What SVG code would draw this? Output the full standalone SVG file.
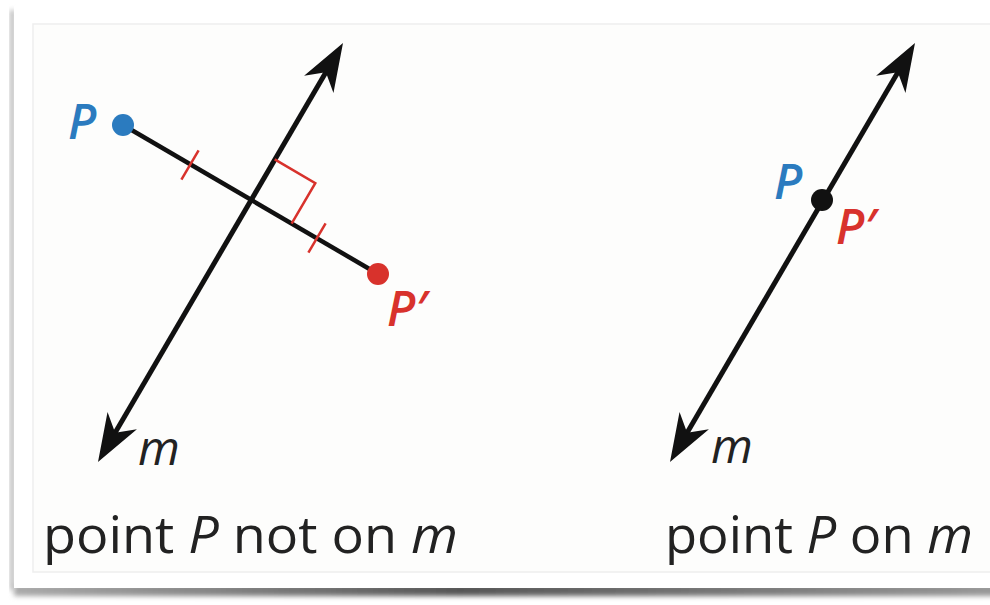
<svg xmlns="http://www.w3.org/2000/svg" width="990" height="605" viewBox="0 0 990 605">
<defs>
<filter id="blur" x="-10%" y="-50%" width="120%" height="200%"><feGaussianBlur stdDeviation="2.5"/></filter>
<linearGradient id="sh" x1="0" y1="0" x2="1" y2="0">
<stop offset="0" stop-color="#aaa"/><stop offset="0.45" stop-color="#555"/><stop offset="1" stop-color="#999"/>
</linearGradient>
<path id="arr" d="M0,0 L-48,-17 L-34,0 L-48,17 Z" fill="#111"/>
</defs>
<style>
.ln{stroke:#111;stroke-width:5;fill:none}
.seg{stroke:#111;stroke-width:4.5;fill:none}
.red{stroke:#d8322c;stroke-width:2.5;fill:none}
.lbl{font-family:"Open Sans","Noto Sans",sans-serif;font-style:italic;font-weight:600;font-size:48px}
.m{font-family:"Open Sans","Noto Sans",sans-serif;font-style:italic;font-size:48px;fill:#222}
.cap{font-family:"Open Sans","Noto Sans",sans-serif;font-size:52px;fill:#222}
</style>
<rect width="990" height="605" fill="#fff"/>
<g id="card">
<rect x="14" y="584" width="990" height="12" fill="url(#sh)" filter="url(#blur)"/>
<rect x="10" y="10" width="5" height="580" fill="#bbb" filter="url(#blur)"/>
<rect x="14" y="6" width="990" height="582" fill="#fff"/>
<rect x="33" y="24" width="970" height="548" fill="#fdfdfc" stroke="#eeeeee" stroke-width="1.5"/>
</g>
<g id="connectors">
<line class="ln" x1="327.8" y1="68.9" x2="113.2" y2="436.1"/>
<use href="#arr" transform="translate(343,43) rotate(-59.7)"/>
<use href="#arr" transform="translate(98,462) rotate(120.3)"/>
<line class="seg" x1="123" y1="125" x2="378" y2="274"/>
<line class="red" x1="198.6" y1="150.3" x2="181.4" y2="179.7"/>
<line class="red" x1="325.6" y1="223.3" x2="308.4" y2="252.7"/>
<polyline class="red" points="274.7,159.4 315.3,183.1 291.6,223.7"/>
<line class="ln" x1="899.8" y1="68.9" x2="685.2" y2="436.1"/>
<use href="#arr" transform="translate(915,43) rotate(-59.7)"/>
<use href="#arr" transform="translate(670,462) rotate(120.3)"/>
</g>
<g id="node-P-left">
<circle cx="123" cy="125" r="11" fill="#2b7bbf"/>
<text class="lbl" x="68" y="139" fill="#2b7bbf">P</text>
</g>
<g id="node-Pprime-left">
<circle cx="378" cy="274" r="11" fill="#d8322c"/>
<text class="lbl" x="387" y="326" fill="#d8322c">P′</text>
</g>
<g id="label-m-left"><text class="m" x="138" y="465">m</text></g>
<g id="caption-left"><text class="cap" x="43" y="553" textLength="415" lengthAdjust="spacingAndGlyphs">point <tspan font-style="italic">P</tspan> not on <tspan font-style="italic">m</tspan></text></g>
<g id="node-P-right">
<circle cx="822" cy="200" r="11" fill="#111"/>
<text class="lbl" x="774" y="199" fill="#2b7bbf">P</text>
<text class="lbl" x="836" y="244" fill="#d8322c">P′</text>
</g>
<g id="label-m-right"><text class="m" x="711" y="463">m</text></g>
<g id="caption-right"><text class="cap" x="665" y="553" textLength="308" lengthAdjust="spacingAndGlyphs">point <tspan font-style="italic">P</tspan> on <tspan font-style="italic">m</tspan></text></g>
</svg>
